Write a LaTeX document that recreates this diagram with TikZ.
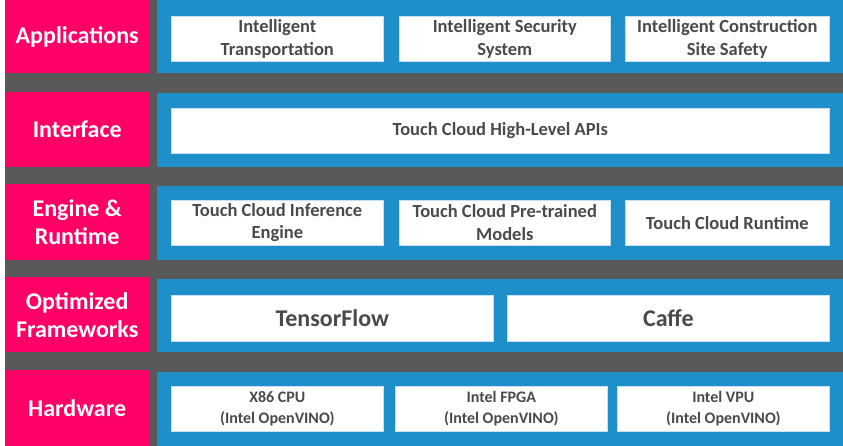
\documentclass[tikz,border=0pt]{standalone}
\usepackage{fontspec}
\setmainfont{Carlito}
\definecolor{layerpink}{HTML}{FF0066}
\definecolor{bandblue}{HTML}{1F8FC9}
\definecolor{gapgray}{HTML}{595959}
\definecolor{itemtext}{HTML}{4A4A4A}
\definecolor{itemline}{HTML}{C5E0F2}

\begin{document}
\begin{tikzpicture}[x=1pt,y=-1pt,
    layer/.style={fill=layerpink,text=white,anchor=north west,inner sep=0pt,minimum width=144pt,align=center,font=\bfseries\fontsize{24}{28}\selectfont},
    band/.style={fill=bandblue,anchor=north west,inner sep=0pt,minimum width=686pt},
    item/.style={fill=white,draw=itemline,line width=0.6pt,anchor=north west,inner sep=0pt,minimum height=45pt,text=itemtext,align=center,font=\bfseries\fontsize{18.5}{22.5}\selectfont},
    bigitem/.style={item,minimum height=46pt,font=\bfseries\fontsize{24}{28}\selectfont},
    hwitem/.style={item,font=\bfseries\fontsize{16}{21}\selectfont}]
                \useasboundingbox (0,0) rectangle (843,446);
                \fill[gapgray] (4.5,0) rectangle (843,446);
                \node[layer,minimum height=73pt] (apps) at (5,0) {Applications};
                \node[layer,minimum height=75pt] (iface) at (5,92) {Interface};
                \node[layer,minimum height=76pt] (engine) at (5,184) {Engine \&\\Runtime};
                \node[layer,minimum height=75pt] (frame) at (5,277) {Optimized\\Frameworks};
                \node[layer,minimum height=76pt] (hw) at (5,370) {Hardware};
                \node[band,minimum height=73pt] (appsband) at (157,0) {};
                \node[band,minimum height=74pt] (ifaceband) at (157,93) {};
                \node[band,minimum height=74pt] (engineband) at (157,186) {};
                \node[band,minimum height=73pt] (frameband) at (157,279) {};
                \node[band,minimum height=74pt] (hwband) at (157,372) {};
                \node[item,minimum width=212pt] (transport) at (171,16) {Intelligent\\Transportation};
                \node[item,minimum width=211pt] (security) at (399,16) {Intelligent Security\\System};
                \node[item,minimum width=204pt] (site) at (625,16) {Intelligent Construction\\Site Safety};
                \node[item,minimum width=658pt] (apis) at (171,108) {Touch Cloud High-Level APIs};
                \node[item,minimum width=212pt] (inference) at (171,200) {Touch Cloud Inference\\Engine};
                \node[item,minimum width=211pt] (pretrained) at (399,200) {Touch Cloud Pre-trained\\Models};
                \node[item,minimum width=204pt] (runtime) at (625,200) {Touch Cloud Runtime};
                \node[bigitem,minimum width=322pt] (tf) at (171,295) {TensorFlow};
                \node[bigitem,minimum width=322pt] (caffe) at (507,295) {Caffe};
                \node[hwitem,minimum width=212pt] (cpu) at (171,386) {X86 CPU\\(Intel OpenVINO)};
                \node[hwitem,minimum width=212pt] (fpga) at (395,386) {Intel FPGA\\(Intel OpenVINO)};
                \node[hwitem,minimum width=212pt] (vpu) at (617,386) {Intel VPU\\(Intel OpenVINO)};
            \end{tikzpicture}
\end{document}
